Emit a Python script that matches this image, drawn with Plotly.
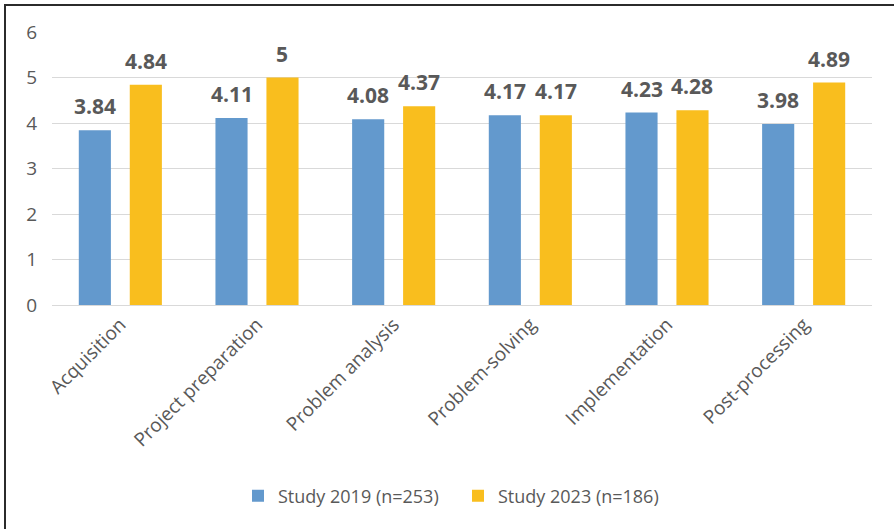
import plotly.graph_objects as go

categories = ["Acquisition", "Project preparation", "Problem analysis",
              "Problem-solving", "Implementation", "Post-processing"]
study_2019 = [3.84, 4.11, 4.08, 4.17, 4.23, 3.98]
study_2023 = [4.84, 5, 4.37, 4.17, 4.28, 4.89]
series_names = ["Study 2019 (n=253)", "Study 2023 (n=186)"]
y_ticks = [0, 1, 2, 3, 4, 5, 6]

W, H = 894, 529
ML, MR, MT, MB = 52, 22, 32, 224
PW, PH = W - ML - MR, H - MT - MB

FONT = "Open Sans, Lato, sans-serif"
TXT = "#595959"
BARGAP, GROUPGAP = 0.254, 0.37

series = [(series_names[0], study_2019, "#6399CD"),
          (series_names[1], study_2023, "#F9BE1E")]

fig = go.Figure()
for name, vals, col in series:
    fig.add_trace(go.Bar(
        x=categories, y=vals, name=name,
        marker=dict(color=col, line=dict(width=0)),
    ))

# value labels above each bar, shifted sideways onto its slot in the group
slot_px = PW / len(categories) * (1 - BARGAP) / len(series)
for i, (name, vals, col) in enumerate(series):
    shift = (i - (len(series) - 1) / 2) * slot_px
    for cat, v in zip(categories, vals):
        fig.add_annotation(
            x=cat, y=v, text=f"<b>{v:g}</b>", showarrow=False,
            xanchor="center", yanchor="bottom", xshift=shift, yshift=8,
            font=dict(family=FONT, size=21, color=TXT),
        )


def px_x(x):
    return (x - ML) / PW


def px_y(y):
    return (H - MB - y) / PH


# frame around the chart (left and top edges fall inside the page)
fig.add_shape(type="rect", xref="paper", yref="paper",
              x0=px_x(5), x1=px_x(W + 10), y0=px_y(H + 10), y1=px_y(5),
              line=dict(color="#2b2b2b", width=2), fillcolor="rgba(0,0,0,0)",
              layer="above")

fig.update_layout(
    width=W, height=H,
    margin=dict(l=ML, r=MR, t=MT, b=MB),
    paper_bgcolor="white", plot_bgcolor="white",
    barmode="group", bargap=BARGAP, bargroupgap=GROUPGAP,
    font=dict(family=FONT, color=TXT, size=18),
    showlegend=True,
    legend=dict(orientation="h", x=px_x(238), xanchor="left", y=px_y(496),
                yanchor="middle", font=dict(family=FONT, size=18, color=TXT),
                itemwidth=30, tracegroupgap=0,
                entrywidth=175, entrywidthmode="pixels"),
    xaxis=dict(tickangle=-45, showgrid=False, showline=True,
               linecolor="#D9D9D9", linewidth=1, ticks="",
               tickfont=dict(family=FONT, size=19, color=TXT)),
    yaxis=dict(range=[0, 6], tickvals=y_ticks, showgrid=True,
               gridcolor="#D9D9D9", gridwidth=1, zeroline=False,
               showline=False, ticks="", ticklabelstandoff=14,
               tickfont=dict(family=FONT, size=19, color=TXT)),
)

fig.write_html("out.html")
